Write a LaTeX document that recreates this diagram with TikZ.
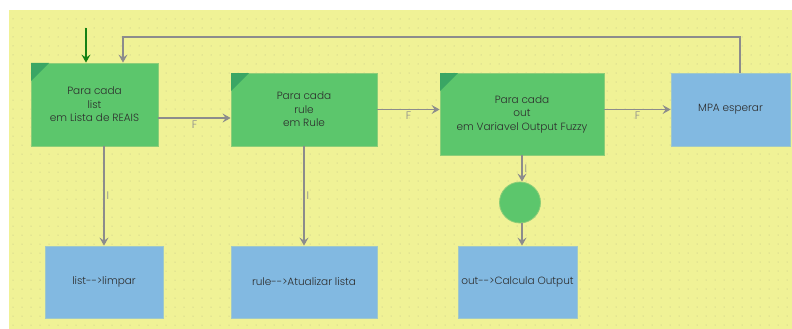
\documentclass[tikz,border=0pt]{standalone}
\usepackage{fontspec}
\setmainfont{Poppins Light}
\usetikzlibrary{arrows.meta,calc}
\definecolor{bgyellow}{RGB}{240,242,150}
\definecolor{dotc}{RGB}{185,187,135}
\definecolor{gfill}{RGB}{92,198,108}
\definecolor{gdark}{RGB}{58,166,100}
\definecolor{gedge}{RGB}{140,206,120}
\definecolor{bfill}{RGB}{130,185,225}
\definecolor{bedge}{RGB}{160,200,200}
\definecolor{linec}{RGB}{140,140,140}
\definecolor{txtc}{RGB}{45,45,45}
\definecolor{startc}{RGB}{20,130,20}
\tikzset{
  greenbox/.style={rectangle, fill=gfill, draw=gedge, line width=0.8pt, align=center, text=txtc, font=\fontsize{10.5}{13.5}\selectfont, inner sep=0pt},
  bluebox/.style={rectangle, fill=bfill, draw=bedge, line width=0.8pt, align=center, text=txtc, font=\fontsize{10.5}{13.5}\selectfont, inner sep=0pt},
  junction/.style={circle, fill=gfill, draw=gedge, line width=0.8pt, minimum size=41pt, inner sep=0pt},
  arr/.style={draw=linec, line width=1.2pt, -{Stealth[length=8pt,width=9pt,inset=3pt]}},
  garr/.style={draw=startc, line width=1.2pt, -{Stealth[length=8pt,width=9pt,inset=3pt]}},
  lbl/.style={text=linec, font=\fontsize{11}{13}\selectfont, inner sep=2pt}
}
\begin{document}
\begin{tikzpicture}[x=1pt,y=-1pt]
\useasboundingbox (0,0) rectangle (792,329);
\fill[bgyellow] (9,10) rectangle (792,329);
\foreach \xx in {13,22,...,790} {
  \foreach \yy in {19,28,...,327} {
    \fill[dotc] (\xx,\yy) circle (0.5pt);
  }
}
% nodes
\node[greenbox, minimum width=127pt, minimum height=83pt] (b1) at (94.5,104.5) {Para cada\\list\\em Lista de REAIS};
\node[greenbox, minimum width=146pt, minimum height=73pt] (b2) at (304,109.5) {Para cada\\rule\\em Rule};
\node[greenbox, minimum width=164pt, minimum height=82pt] (b3) at (522,114) {Para cada\\out\\em Variavel Output Fuzzy};
\node[bluebox, minimum width=119pt, minimum height=73pt] (mpa) at (730.5,109.5) {MPA esperar};
\node[bluebox, minimum width=118pt, minimum height=72pt] (ba) at (104,282) {list-{}->limpar};
\node[bluebox, minimum width=146pt, minimum height=72pt] (bb) at (304,282) {rule-{}->Atualizar lista};
\node[bluebox, minimum width=119pt, minimum height=72pt] (bc) at (517.5,282) {out-{}->Calcula Output};
\node[junction] (jc) at (520,202.5) {};
% corner marks
\foreach \n in {b1,b2,b3} {
  \fill[gdark] ([shift={(0.4,0.4)}]\n.north west) -- ++(18,0) -- ++(-18,18) -- cycle;
}
% connectors
\coordinate (start) at (86,28);
\draw[garr] (start) -- (start |- b1.north);
\draw[arr] ([yshift=-13.5pt]b1.east) -- ([yshift=-13.5pt]b1.east -| b2.west) node[midway, below, lbl] {F};
\draw[arr] (b2.east) -- (b2.east -| b3.west) node[midway, below, lbl] {F};
\draw[arr] (b3.east |- mpa.west) -- (mpa.west) node[midway, below, lbl] {F};
\draw[arr] (ba.north |- b1.south) -- (ba.north) node[midway, right, lbl] {I};
\draw[arr] (b2.south) -- (bb.north) node[midway, right, lbl] {I};
\draw[arr] (b3.south) -- (b3.south |- jc.north) node[midway, right, lbl] {I};
\draw[arr] (jc.south -| b3.south) -- (bc.north -| b3.south);
\coordinate (lp) at (0,37);
\draw[arr] ([xshift=9.5pt]mpa.north) -- ([xshift=9.5pt]mpa.north |- lp) -| ([xshift=28.5pt]b1.north);
\end{tikzpicture}
\end{document}
